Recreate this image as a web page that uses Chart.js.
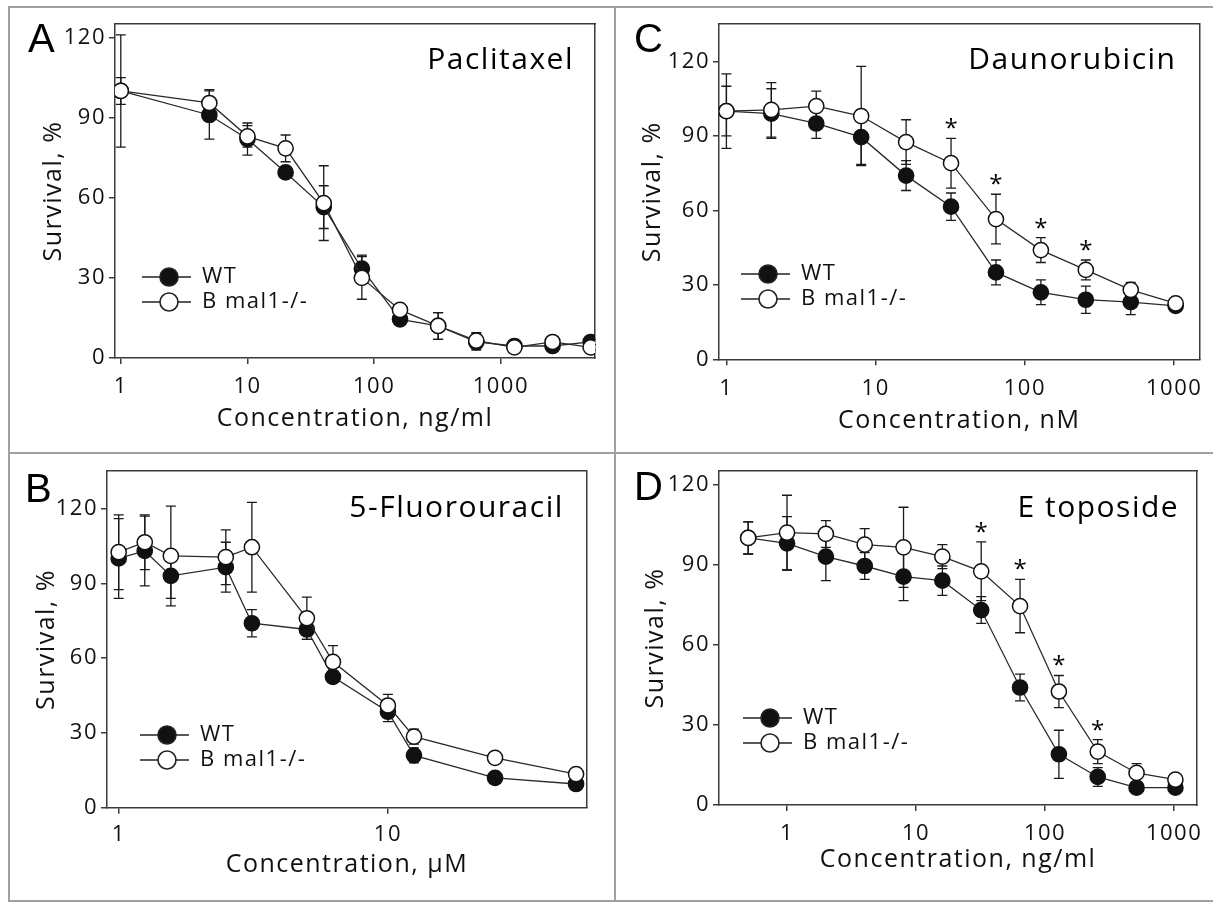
<!DOCTYPE html>
<html>
<head>
<meta charset="utf-8">
<script src="https://cdn.jsdelivr.net/npm/chart.js@4.4.1/dist/chart.umd.min.js"></script>
<style>
  html, body { margin: 0; padding: 0; background: #fff; }
  #fig { position: relative; width: 1213px; height: 902px; overflow: hidden; background: #fff; }
  #fig canvas { position: absolute; }
  .rule { position: absolute; background: #a0a0a0; }
</style>
</head>
<body>
<div id="fig">
  <div class="rule" style="left:8px;top:6px;width:1205px;height:2px"></div>
  <div class="rule" style="left:8px;top:6px;width:2px;height:896px"></div>
  <div class="rule" style="left:614px;top:6px;width:2px;height:896px"></div>
  <div class="rule" style="left:8px;top:452px;width:1205px;height:2px"></div>
  <div class="rule" style="left:8px;top:900px;width:1205px;height:2px"></div>
  <canvas id="panelA" width="603" height="444" style="left:10px;top:8px"></canvas>
  <canvas id="panelC" width="596" height="444" style="left:617px;top:8px"></canvas>
  <canvas id="panelB" width="603" height="445" style="left:10px;top:455px"></canvas>
  <canvas id="panelD" width="596" height="445" style="left:617px;top:455px"></canvas>
</div>
<script>
// tick labels
const yTicks = [0, 30, 60, 90, 120];
const xTicksA = [1, 10, 100, 1000];
const xTicksB = [1, 10];
const xTicksC = [1, 10, 100, 1000];
const xTicksD = [1, 10, 100, 1000];

// series names
const seriesNames = ['WT', 'B mal1-/-'];

// A - Paclitaxel (ng/ml)
const paclitaxelDose  = [1, 5, 10, 20, 40, 80, 160, 320, 640, 1280, 2560, 5120];
const paclitaxelWT    = [100, 91, 82, 69.5, 56.5, 33.5, 14.5, 12, 6, 4.5, 4.5, 6];
const paclitaxelWTErr = [5, 9, 6, 2, 8, 5, 2, 5, 3, 1, 1, 1];
const paclitaxelKO    = [100, 95.5, 83, 78.5, 58, 30, 18, 12, 6.5, 4, 6, 4];
const paclitaxelKOErr = [21, 5, 4, 5, 14, 8, 2, 5, 3, 1, 1, 1];

// B - 5-Fluorouracil (uM)
const fluorouracilDose  = [1, 1.25, 1.5625, 2.5, 3.125, 5, 6.25, 10, 12.5, 25, 50];
const fluorouracilWT    = [100, 103, 93, 96.5, 74, 71.5, 52.5, 38.5, 21, 12, 9.5];
const fluorouracilWTErr = [16, 14, 9, 10, 5.5, 4, 2, 4, 3, 1.5, 1.5];
const fluorouracilKO    = [102.5, 106.5, 101, 100.5, 104.5, 76, 58.5, 41, 28.5, 20, 13.5];
const fluorouracilKOErr = [15, 11, 20, 11, 18, 8.5, 6.5, 4.5, 3, 1.5, 1.5];

// C - Daunorubicin (nM)
const daunorubicinDose  = [1, 2, 4, 8, 16, 32, 64, 128, 256, 512, 1024];
const daunorubicinWT    = [100, 99, 95, 89.5, 74, 61.5, 35, 27, 24, 23, 21.5];
const daunorubicinWTErr = [10, 10, 6, 11, 6, 5.5, 5, 5, 5.5, 5, 1];
const daunorubicinKO    = [100, 100.5, 102, 98, 87.5, 79, 56.5, 44, 36, 28, 22.5];
const daunorubicinKOErr = [15, 11, 6, 20, 9, 10, 10, 5, 4, 3, 1];
const daunorubicinStars = [32, 64, 128, 256];

// D - Etoposide (ng/ml)
const etoposideDose  = [0.5, 1, 2, 4, 8, 16, 32, 64, 128, 256, 512, 1024];
const etoposideWT    = [100, 98, 93, 89.5, 85.5, 84, 73, 44, 19, 10.5, 6.5, 6.5];
const etoposideWTErr = [6, 10, 9, 5, 9, 5.5, 5, 5, 9, 3.5, 1.5, 1.5];
const etoposideKO    = [100, 102, 101.5, 97.5, 96.5, 93, 87.5, 74.5, 42.5, 20, 12, 9.5];
const etoposideKOErr = [6, 14, 5, 6, 15, 4.5, 11, 10, 6, 4.5, 3.5, 1];
const etoposideStars = [32, 64, 128, 256];

const ink = '#111';
const axisColor = '#3a3a3a';
const fontFamily = '"Open Sans", "DejaVu Sans", sans-serif';

// letter spacing for all chart text
const tracking = {
  id: 'tracking',
  beforeUpdate(chart) { chart.ctx.letterSpacing = '1.5px'; },
  beforeDraw(chart) { chart.ctx.letterSpacing = '1.5px'; }
};

// error bars drawn under the points
const errorBars = {
  id: 'errorBars',
  beforeDatasetsDraw(chart) {
    const {ctx} = chart;
    const x = chart.scales.x, y = chart.scales.y;
    ctx.save();
    ctx.strokeStyle = '#1a1a1a';
    ctx.lineWidth = 1.3;
    chart.data.datasets.forEach(ds => {
      ds.data.forEach((p, i) => {
        const e = ds.errors[i];
        const px = x.getPixelForValue(p.x);
        const top = y.getPixelForValue(p.y + e);
        const bot = y.getPixelForValue(p.y - e);
        ctx.beginPath();
        ctx.moveTo(px, top); ctx.lineTo(px, bot);
        ctx.moveTo(px - 5, top); ctx.lineTo(px + 5, top);
        ctx.moveTo(px - 5, bot); ctx.lineTo(px + 5, bot);
        ctx.stroke();
      });
    });
    ctx.restore();
  }
};

// panel letter, drug name and significance stars
const panelText = {
  id: 'panelText',
  afterDraw(chart, args, opts) {
    const {ctx, chartArea} = chart;
    ctx.save();
    ctx.fillStyle = '#000';
    ctx.letterSpacing = '0px';
    ctx.textAlign = 'left';
    ctx.textBaseline = 'alphabetic';
    ctx.font = '40px "Liberation Sans", Arial, sans-serif';
    ctx.fillText(opts.letter, opts.letterX, opts.letterY);

    ctx.letterSpacing = '1.5px';
    ctx.textAlign = 'right';
    ctx.font = '30px ' + fontFamily;
    ctx.fillText(opts.drug, chartArea.right - opts.nameInset, chartArea.top + opts.nameBase);

    const ko = chart.data.datasets[1];
    ctx.letterSpacing = '0px';
    ctx.textAlign = 'center';
    ctx.font = '24px ' + fontFamily;
    opts.stars.forEach(d => {
      const i = ko.data.findIndex(p => p.x === d);
      if (i < 0) return;
      const px = chart.scales.x.getPixelForValue(d);
      const py = chart.scales.y.getPixelForValue(ko.data[i].y + ko.errors[i]);
      ctx.fillText('*', px, py - 2);
    });
    ctx.restore();
  }
};

function legendSample(filled, width, lineStart) {
  const c = document.createElement('canvas');
  c.width = width;
  c.height = 24;
  const g = c.getContext('2d');
  g.strokeStyle = '#222';
  g.lineWidth = 1.5;
  g.beginPath();
  g.moveTo(lineStart, 12);
  g.lineTo(lineStart + 49, 12);
  g.stroke();
  g.beginPath();
  g.arc(lineStart + 27, 12, 9, 0, Math.PI * 2);
  g.fillStyle = filled ? '#111' : '#fff';
  g.fill();
  g.lineWidth = 1.6;
  g.stroke();
  return c;
}

const panels = [
  { canvas: 'panelA', letter: 'A', letterX: 18, letterY: 44, drug: 'Paclitaxel', nameInset: 21, nameBase: 45,
    unit: 'Concentration, ng/ml', dose: paclitaxelDose, wt: paclitaxelWT, wtErr: paclitaxelWTErr,
    ko: paclitaxelKO, koErr: paclitaxelKOErr, stars: [], xTicks: xTicksA,
    xMin: 0.9, xMax: 5540, yMax: 125, padTop: 14, padRight: 18, yAxisW: 105, xAxisH: 94,
    tickPad: 10, yTitlePad: 28.5, xTitlePad: 18, legendX: 27, legendRow: 269 },
  { canvas: 'panelC', letter: 'C', letterX: 17, letterY: 44, drug: 'Daunorubicin', nameInset: 23, nameBase: 45,
    unit: 'Concentration, nM', dose: daunorubicinDose, wt: daunorubicinWT, wtErr: daunorubicinWTErr,
    ko: daunorubicinKO, koErr: daunorubicinKOErr, stars: daunorubicinStars, xTicks: xTicksC,
    xMin: 0.892, xMax: 1479, yMax: 135, padTop: 14.7, padRight: 13, yAxisW: 102, xAxisH: 92.7,
    tickPad: 10, yTitlePad: 20.5, xTitlePad: 16, legendX: 22, legendRow: 266 },
  { canvas: 'panelB', letter: 'B', letterX: 15, letterY: 47, drug: '5-Fluorouracil', nameInset: 23, nameBase: 46,
    unit: 'Concentration, μM', dose: fluorouracilDose, wt: fluorouracilWT, wtErr: fluorouracilWTErr,
    ko: fluorouracilKO, koErr: fluorouracilKOErr, stars: [], xTicks: xTicksB,
    xMin: 0.905, xMax: 54.8, yMax: 135, padTop: 15, padRight: 26.2, yAxisW: 97, xAxisH: 92.3,
    tickPad: 8, yTitlePad: 21.7, xTitlePad: 20, legendX: 33, legendRow: 280 },
  { canvas: 'panelD', letter: 'D', letterX: 17, letterY: 45, drug: 'E toposide', nameInset: 18, nameBase: 46,
    unit: 'Concentration, ng/ml', dose: etoposideDose, wt: etoposideWT, wtErr: etoposideWTErr,
    ko: etoposideKO, koErr: etoposideKOErr, stars: etoposideStars, xTicks: xTicksD,
    xMin: 0.297, xMax: 1510, yMax: 125, padTop: 14, padRight: 9.6, yAxisW: 102, xAxisH: 95,
    tickPad: 10, yTitlePad: 23.5, xTitlePad: 25, legendX: 24, legendRow: 263 }
];

const legendPad = 3;
const legendFont = 22;

function makePanel(p) {
  const boxW = p.legendX + 49 - legendPad;
  const sampleWT = legendSample(true, boxW, p.legendX - legendPad);
  const sampleKO = legendSample(false, boxW, p.legendX - legendPad);
  const toPoints = vals => p.dose.map((d, i) => ({x: d, y: vals[i]}));
  const tickGrid = {display: true, drawOnChartArea: false, drawTicks: true, tickLength: 6, color: axisColor, lineWidth: 1.5};
  const border = {display: true, color: axisColor, width: 1.5};

  new Chart(document.getElementById(p.canvas), {
    type: 'line',
    data: {
      datasets: [
        { label: seriesNames[0], data: toPoints(p.wt), errors: p.wtErr, xAxisID: 'x', yAxisID: 'y', order: 1,
          borderColor: '#2a2a2a', borderWidth: 1.3, tension: 0, fill: false,
          pointRadius: 7.6, pointBorderWidth: 1.5, pointBackgroundColor: ink, pointBorderColor: ink },
        { label: seriesNames[1], data: toPoints(p.ko), errors: p.koErr, xAxisID: 'x', yAxisID: 'y', order: 0,
          borderColor: '#2a2a2a', borderWidth: 1.3, tension: 0, fill: false,
          pointRadius: 7.6, pointBorderWidth: 1.5, pointBackgroundColor: '#fff', pointBorderColor: ink }
      ]
    },
    options: {
      responsive: false,
      animation: false,
      devicePixelRatio: 1,
      events: [],
      layout: {padding: {left: 0, top: p.padTop, right: p.padRight, bottom: 0}},
      scales: {
        x: {
          type: 'logarithmic', min: p.xMin, max: p.xMax, bounds: 'data',
          afterBuildTicks: s => { s.ticks = p.xTicks.map(v => ({value: v})); },
          afterFit: s => { s.height = p.xAxisH; },
          grid: tickGrid, border: border,
          ticks: {color: ink, font: {family: fontFamily, size: 22}, padding: p.tickPad, maxRotation: 0, autoSkip: false,
                  callback: v => String(v)},
          title: {display: true, text: p.unit, color: ink, font: {family: fontFamily, size: 25},
                  padding: {top: 0, bottom: p.xTitlePad}}
        },
        y: {
          type: 'linear', min: 0, max: p.yMax, bounds: 'data',
          afterBuildTicks: s => { s.ticks = yTicks.map(v => ({value: v})); },
          afterFit: s => { s.width = p.yAxisW; },
          grid: tickGrid, border: border,
          ticks: {color: ink, font: {family: fontFamily, size: 22}, padding: 3},
          title: {display: true, text: 'Survival, %', color: ink, font: {family: fontFamily, size: 25},
                  padding: {top: p.yTitlePad, bottom: 0}}
        },
        xTop: {
          type: 'linear', position: 'top', display: true,
          grid: {display: false, drawTicks: false}, ticks: {display: false}, border: border,
          afterFit: s => { s.height = 0; }
        },
        yRight: {
          type: 'linear', position: 'right', display: true,
          grid: {display: false, drawTicks: false}, ticks: {display: false}, border: border,
          afterFit: s => { s.width = 0; }
        }
      },
      plugins: {
        tooltip: {enabled: false},
        legend: {
          position: 'chartArea',
          align: 'start',
          title: {display: true, text: ' ', font: {size: 1}, padding: {top: p.legendRow - 15.2, bottom: 0}},
          labels: {
            usePointStyle: true,
            pointStyleWidth: boxW,
            padding: legendPad,
            color: ink,
            font: {family: fontFamily, size: legendFont},
            generateLabels: () => [
              {text: seriesNames[0], pointStyle: sampleWT, datasetIndex: 0, hidden: false, lineWidth: 0,
               fillStyle: ink, strokeStyle: ink, fontColor: ink},
              {text: seriesNames[1], pointStyle: sampleKO, datasetIndex: 1, hidden: false, lineWidth: 0,
               fillStyle: '#fff', strokeStyle: ink, fontColor: ink}
            ]
          }
        },
        panelText: {letter: p.letter, letterX: p.letterX, letterY: p.letterY, drug: p.drug,
                    nameInset: p.nameInset, nameBase: p.nameBase, stars: p.stars}
      }
    },
    plugins: [tracking, errorBars, panelText]
  });
}

panels.forEach(makePanel);
</script>
</body>
</html>
